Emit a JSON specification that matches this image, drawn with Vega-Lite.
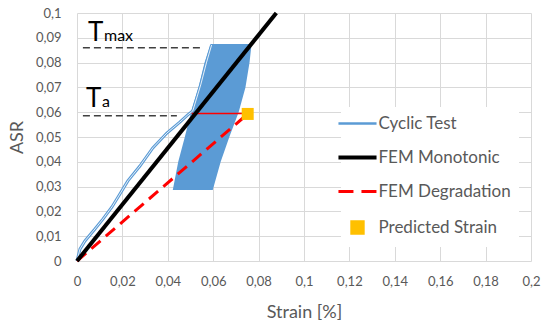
{
  "$schema": "https://vega.github.io/schema/vega-lite/v6.json",
  "width": 454,
  "height": 248,
  "autosize": {"type": "none"},
  "padding": {"left": 77, "top": 13, "right": 13, "bottom": 63},
  "background": "white",
  "config": {
    "font": "Lato",
    "view": {"stroke": null},
    "axis": {
      "grid": true, "gridColor": "#d9d9d9", "gridWidth": 1, "domain": false,
      "ticks": false, "tickSize": 0, "labelColor": "#595959", "labelFontSize": 13,
      "titleColor": "#595959", "titleFontSize": 18, "titleFontWeight": "normal",
      "labelFont": "Lato", "titleFont": "Lato"
    }
  },
  "datasets": {
    "band": [
      {"asr": 0.0286, "strain": 0.0422, "strain2": 0.0598},
      {"asr": 0.04, "strain": 0.0446, "strain2": 0.0633},
      {"asr": 0.05, "strain": 0.0475, "strain2": 0.0671},
      {"asr": 0.06, "strain": 0.0502, "strain2": 0.0712},
      {"asr": 0.07, "strain": 0.0535, "strain2": 0.0742},
      {"asr": 0.08, "strain": 0.0562, "strain2": 0.076},
      {"asr": 0.0875, "strain": 0.0589, "strain2": 0.0769}
    ],
    "cyclic": [
      {"series": "Cyclic Test", "strain": 0, "asr": 0},
      {"series": "Cyclic Test", "strain": 0.0013, "asr": 0.0048},
      {"series": "Cyclic Test", "strain": 0.0035, "asr": 0.0081},
      {"series": "Cyclic Test", "strain": 0.0079, "asr": 0.0129},
      {"series": "Cyclic Test", "strain": 0.0114, "asr": 0.0169},
      {"series": "Cyclic Test", "strain": 0.0154, "asr": 0.0218},
      {"series": "Cyclic Test", "strain": 0.0189, "asr": 0.027},
      {"series": "Cyclic Test", "strain": 0.0224, "asr": 0.0323},
      {"series": "Cyclic Test", "strain": 0.0277, "asr": 0.0383},
      {"series": "Cyclic Test", "strain": 0.0334, "asr": 0.0456},
      {"series": "Cyclic Test", "strain": 0.0396, "asr": 0.0516},
      {"series": "Cyclic Test", "strain": 0.0453, "asr": 0.056},
      {"series": "Cyclic Test", "strain": 0.0488, "asr": 0.0589},
      {"series": "Cyclic Test", "strain": 0.051, "asr": 0.0605},
      {"series": "Cyclic Test", "strain": 0.0545, "asr": 0.071},
      {"series": "Cyclic Test", "strain": 0.0571, "asr": 0.0802},
      {"series": "Cyclic Test", "strain": 0.0593, "asr": 0.0871}
    ],
    "mono": [
      {"series": "FEM Monotonic", "strain": 0, "asr": 0},
      {"series": "FEM Monotonic", "strain": 0.0878, "asr": 0.1}
    ],
    "degr": [
      {"series": "FEM Degradation", "strain": 0, "asr": 0},
      {"series": "FEM Degradation", "strain": 0.0752, "asr": 0.0593}
    ],
    "pred": [
      {"series": "Predicted Strain", "strain": 0.0752, "asr": 0.0593}
    ],
    "link": [
      {"strain": 0.0505, "strain2": 0.0752, "asr": 0.0595}
    ],
    "guides": [
      {"strain": 0.0026, "strain2": 0.0554, "asr": 0.086},
      {"strain": 0.0026, "strain2": 0.044, "asr": 0.0586}
    ],
    "labels": [
      {"strain": 0.0048, "strain2": 0.0119, "asr": 0.0887, "big": "T", "small": "max"},
      {"strain": 0.004, "strain2": 0.011, "asr": 0.0621, "big": "T", "small": "a"}
    ]
  },
  "encoding": {
    "x": {
      "field": "strain", "type": "quantitative",
      "scale": {"domain": [0, 0.2], "nice": false, "zero": false},
      "axis": {
        "title": "Strain [%]", "values": [0, 0.02, 0.04, 0.06, 0.08, 0.1, 0.12, 0.14, 0.16, 0.18, 0.2],
        "labelExpr": "replace(format(datum.value, '.2~f'), '.', ',')",
        "labelPadding": 14, "labelFlush": false, "labelOverlap": false, "labelBound": false,
        "titleY": 42
      }
    },
    "y": {
      "field": "asr", "type": "quantitative",
      "scale": {"domain": [0, 0.1], "nice": false, "zero": false},
      "axis": {
        "title": "ASR", "values": [0, 0.01, 0.02, 0.03, 0.04, 0.05, 0.06, 0.07, 0.08, 0.09, 0.1],
        "labelExpr": "replace(format(datum.value, '.2~f'), '.', ',')",
        "labelPadding": 16, "labelFlush": false, "labelOverlap": false, "labelBound": false,
        "titleX": -51, "titleY": 124
      }
    }
  },
  "layer": [
    {
      "data": {"name": "band"},
      "mark": {"type": "area", "orient": "horizontal", "color": "#5B9BD5", "opacity": 1},
      "encoding": {"x2": {"field": "strain2"}}
    },
    {
      "data": {"name": "cyclic"},
      "mark": {"type": "line", "strokeWidth": 3},
      "encoding": {
        "color": {
          "field": "series", "type": "nominal",
          "scale": {
            "domain": ["Cyclic Test", "FEM Monotonic", "FEM Degradation", "Predicted Strain"],
            "range": ["#5B9BD5", "#000000", "#FF0000", "#FFC000"]
          },
          "legend": {
            "orient": "none", "legendX": 264, "legendY": 94, "title": null,
            "fillColor": "white", "padding": 8, "rowPadding": 16,
            "labelFontSize": 17, "labelColor": "#595959", "labelFont": "Lato",
            "labelOffset": 12.5, "symbolSize": 1156, "symbolType": "stroke",
            "encode": {
              "symbols": {
                "update": {
                  "shape": {"signal": "datum.value === 'Predicted Strain' ? 'M-0.35,-0.35H0.35V0.35H-0.35Z' : 'M-1.12,0H1.12'"},
                  "size": {"value": 1156},
                  "fill": {"signal": "datum.value === 'Predicted Strain' ? '#FFC000' : 'transparent'"},
                  "stroke": {"signal": "datum.value === 'Cyclic Test' ? '#6A9FD6' : datum.value === 'FEM Monotonic' ? '#000000' : datum.value === 'FEM Degradation' ? '#FF0000' : 'transparent'"},
                  "strokeWidth": {"signal": "datum.value === 'FEM Monotonic' ? 4 : datum.value === 'FEM Degradation' ? 3 : 2.5"},
                  "strokeDash": {"signal": "datum.value === 'FEM Degradation' ? [15, 8] : [1, 0]"},
                  "opacity": {"value": 1}
                }
              }
            }
          }
        }
      }
    },
    {
      "data": {"name": "cyclic"},
      "mark": {"type": "line", "strokeWidth": 1, "color": "white", "opacity": 0.85},
      "encoding": {}
    },
    {
      "data": {"name": "link"},
      "mark": {"type": "rule", "color": "#FF0000", "strokeWidth": 1.5},
      "encoding": {"x2": {"field": "strain2"}}
    },
    {
      "data": {"name": "degr"},
      "mark": {"type": "line", "strokeWidth": 3, "strokeDash": [12, 7]},
      "encoding": {"color": {"field": "series", "type": "nominal"}}
    },
    {
      "data": {"name": "mono"},
      "mark": {"type": "line", "strokeWidth": 4},
      "encoding": {"color": {"field": "series", "type": "nominal"}}
    },
    {
      "data": {"name": "pred"},
      "mark": {"type": "point", "shape": "square", "filled": true, "size": 144, "opacity": 1},
      "encoding": {"color": {"field": "series", "type": "nominal"}}
    },
    {
      "data": {"name": "guides"},
      "mark": {"type": "rule", "color": "#404040", "strokeWidth": 1.5, "strokeDash": [7, 4]},
      "encoding": {"x2": {"field": "strain2"}}
    },
    {
      "data": {"name": "labels"},
      "mark": {"type": "text", "fontSize": 26, "align": "left", "baseline": "alphabetic", "color": "#000000"},
      "encoding": {"text": {"field": "big"}}
    },
    {
      "data": {"name": "labels"},
      "mark": {"type": "text", "fontSize": 16, "align": "left", "baseline": "alphabetic", "color": "#000000"},
      "encoding": {"x": {"field": "strain2", "type": "quantitative"}, "text": {"field": "small"}}
    }
  ]
}
